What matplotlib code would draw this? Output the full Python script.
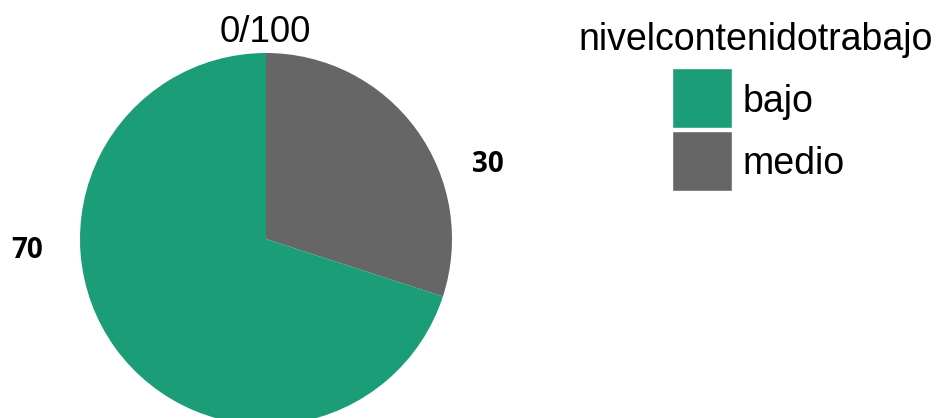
import matplotlib
matplotlib.use("Agg")
import matplotlib.pyplot as plt
from matplotlib.patches import Rectangle

# data
categories = ["bajo", "medio"]
values = [70, 30]
colors = {"bajo": "#1B9E77", "medio": "#666666"}
legend_title = "nivelcontenidotrabajo"
axis_label = "0/100"

W, H = 938, 418
fig = plt.figure(figsize=(W / 100, H / 100), dpi=100)
ax = fig.add_axes([0, 0, 1, 1])

# wedges clockwise from 12 o'clock: medio first, then bajo
order = ["medio", "bajo"]
wedge_vals = [values[categories.index(c)] for c in order]
cx, cy, r = 266, H - 239, 186
ax.pie(wedge_vals, colors=[colors[c] for c in order], startangle=90,
       counterclock=False, center=(cx, cy), radius=r,
       wedgeprops=dict(linewidth=0))
ax.set_xlim(0, W)
ax.set_ylim(0, H)
ax.set_aspect("equal")
ax.axis("off")

# value labels
label_pos = {"bajo": (27.5, H - 250), "medio": (488, H - 164)}
for c in categories:
    x, y = label_pos[c]
    ax.text(x, y, f"{values[categories.index(c)]}", ha="center", va="center",
            fontsize=20, fontweight="bold", family="Open Sans", color="black")

# angular axis label at 12 o'clock
ax.text(265, H - 42.5, axis_label, ha="center", va="baseline", fontsize=26.5,
        family="Liberation Sans", color="black")

# legend
ax.text(756, H - 50, legend_title, ha="center", va="baseline", fontsize=27,
        family="Liberation Sans", color="black")
key_top = 68
for i, c in enumerate(categories):
    top = key_top + i * 63
    ax.add_patch(Rectangle((672, H - top - 60), 60, 60, facecolor=colors[c],
                           edgecolor="white", linewidth=1))
    ax.text(742.5, H - (112 + i * 62), c, ha="left", va="baseline", fontsize=27,
            family="Liberation Sans", color="black")

fig.savefig("out.png", dpi=100, facecolor="white")
